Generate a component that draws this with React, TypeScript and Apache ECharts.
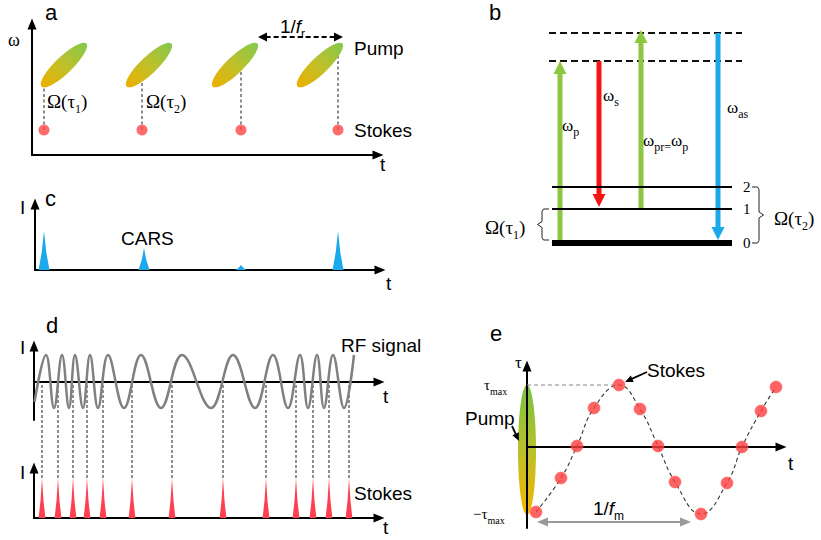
import React, { useEffect, useRef } from 'react';
import * as echarts from 'echarts';

// ---------------- DATA ----------------
// Panel a (units: schematic time / frequency)
const pumpTimesA = [3.2, 11.7, 20.3, 28.8];
const PUMP_OMEGA_A = 9.0;
const stokesTimesA = [1.2, 11.0, 20.9, 30.6];
const STOKES_OMEGA_A = 2.5;
const ramanTopOmegaA = [6.8, 7.5, 8.8, 10.5];
const repPeriodA = [22.6, 31.1];
const REP_OMEGA_A = 11.8;

// Panel b (energy diagram)
const levelLabels = ['0', '1', '2'];
const levelEnergies = [0, 3.4, 5.6];
const virtualEnergies = [18.2, 21.0];
const transitionKeys = ['pump', 'stokes', 'probe', 'antiStokes'];
const transitionX = [1.1, 5.0, 9.2, 16.9];
const transitionFrom = [0, 18.2, 3.4, 21.0];
const transitionTo = [18.2, 3.6, 21.3, 0.3];
const braceX = [21.0, -0.7];
const braceFrom = [0, 0.3];
const braceTo = [5.6, 3.4];
const braceDir = [1, -1];

// Panel c (CARS intensity)
const carsTimes = [0.9, 10.9, 20.6, 30.3];
const carsIntensity = [3.9, 2.2, 0.5, 3.9];

// Panel d (RF signal and Stokes pulses)
const RF_START = [0.05, -2.0];
const rfPeakTimes = [1.2, 2.8, 4.1, 5.6, 7.4, 10.7, 14.8, 19.9, 23.9, 26.6, 28.3, 29.9, 32.0];
const rfTroughTimes = [2.0, 3.5, 4.9, 6.4, 9.0, 12.7, 17.7, 22.1, 25.4, 27.4, 29.0, 31.0];
const RF_HIGH = 2.7;
const RF_LOW = -2.6;
const stokesTimesD = [0.8, 2.4, 3.9, 5.3, 6.9, 9.8, 13.8, 18.9, 23.2, 26.2, 27.9, 29.5, 31.5];
const STOKES_PEAK_D = 4.0;

// Panel e (delay vs time)
const stokesTimesE = [0.9, 3.4, 5.0, 6.7, 9.2, 11.3, 13.1, 14.8, 17.4, 20.0, 21.5, 23.4, 24.9];
const stokesDelayE = [-6.5, -3.1, 0.1, 3.9, 6.2, 3.8, 0.1, -3.5, -6.7, -3.6, 0, 3.6, 6.0];
const TAU_MAX = 6.2;
const PUMP_TAU_MIN = -6.8;
const modPeriodE = [1.0, 16.4];
const MOD_ARROW_TAU = -7.5;
const stokesPointerE = [[12.0, 7.5], [9.8, 6.5]];
const pumpPointerE = [[-1.5, 2.1], [-0.8, 0.6]];

// ---------------- LAYOUT / STYLE ----------------
const SERIF = '"Liberation Serif","Times New Roman",serif';
const SANS = '"Liberation Sans",Arial,Helvetica,sans-serif';
const GREEN = '#8DC63F';
const RED = '#F51414';
const BLUE = '#1AA9EA';
const transitionColor: Record<string, string> = { pump: GREEN, stokes: RED, probe: GREEN, antiStokes: BLUE };

const grids = [
  { left: 32, top: 24, width: 346, height: 131, xMax: 34.6, yMin: 0, yMax: 13.1, show: true },
  { left: 549, top: 20, width: 193, height: 223, xMax: 19.3, yMin: 0, yMax: 22.3, show: false },
  { left: 35, top: 204, width: 345, height: 66, xMax: 34.5, yMin: 0, yMax: 6.6, show: true },
  { left: 34, top: 346, width: 345, height: 74, xMax: 34.5, yMin: -3.8, yMax: 3.6, show: true },
  { left: 34, top: 468, width: 345, height: 50, xMax: 34.5, yMin: 0, yMax: 5.0, show: true },
  { left: 527, top: 366, width: 254, height: 162, xMax: 25.4, yMin: -8.1, yMax: 8.1, show: true },
];
const D1_ZERO_PX = grids[3].top + (grids[3].height * grids[3].yMax) / (grids[3].yMax - grids[3].yMin);
const LEVEL_X = [0.3, 18.3];

function arrowEls(x1: number, y1: number, x2: number, y2: number, color: string, width: number, headL: number, headW: number, dash?: number[], both?: boolean) {
  const dx = x2 - x1, dy = y2 - y1;
  const L = Math.hypot(dx, dy) || 1;
  const ux = dx / L, uy = dy / L;
  const nx = -uy, ny = ux;
  const head = (tx: number, ty: number, sx: number, sy: number) => ({
    type: 'polygon',
    shape: { points: [[tx, ty], [tx - sx * headL + (nx * headW) / 2, ty - sy * headL + (ny * headW) / 2], [tx - sx * headL - (nx * headW) / 2, ty - sy * headL - (ny * headW) / 2]] },
    style: { fill: color },
  });
  const k = headL * 0.85;
  const els: any[] = [
    { type: 'line', shape: { x1: both ? x1 + ux * k : x1, y1: both ? y1 + uy * k : y1, x2: x2 - ux * k, y2: y2 - uy * k }, style: { stroke: color, lineWidth: width, lineDash: dash || null } },
    head(x2, y2, ux, uy),
  ];
  if (both) els.push(head(x1, y1, -ux, -uy));
  return els;
}

const richSerif = (size: number, sub: number) => ({
  n: { fontFamily: SERIF, fontSize: size, lineHeight: size + 8, verticalAlign: 'middle', fill: '#000' },
  s: { fontFamily: SERIF, fontSize: sub, lineHeight: sub + 1, verticalAlign: 'bottom', fill: '#000' },
});
const richSans = (size: number, sub: number) => ({
  n: { fontFamily: SANS, fontSize: size, lineHeight: size + 8, verticalAlign: 'middle', fill: '#000' },
  i: { fontFamily: SANS, fontSize: size, fontStyle: 'italic', lineHeight: size + 8, verticalAlign: 'middle', fill: '#000' },
  s: { fontFamily: SANS, fontSize: sub, lineHeight: sub + 1, verticalAlign: 'bottom', fill: '#000' },
});

const txt = (x: number, y: number, text: string, size = 19, font = SANS) => ({
  type: 'text', x, y, z: 20,
  style: { text, fontFamily: font, fontSize: size, fill: '#000', align: 'left', verticalAlign: 'middle' },
});
const rtxt = (x: number, y: number, text: string, rich: any) => ({
  type: 'text', x, y, z: 20,
  style: { text, rich, align: 'left', verticalAlign: 'middle' },
});

function spike(api: any, t: number, h: number, w: number, fill: string) {
  const l = api.coord([t - w, 0]), r = api.coord([t + w, 0]), p = api.coord([t, h]);
  const ml = api.coord([t - w * 0.42, h * 0.45]), mr = api.coord([t + w * 0.42, h * 0.45]);
  return { type: 'polygon', shape: { points: [l, ml, p, mr, r] }, style: { fill } };
}

function buildOption() {
  const axisBase = (i: number, type: 'x' | 'y') => {
    const g = grids[i];
    return {
      type: 'value', gridIndex: i,
      min: type === 'x' ? 0 : g.yMin, max: type === 'x' ? g.xMax : g.yMax,
      show: g.show, z: 1,
      axisLine: { show: true, onZero: true, symbol: ['none', 'triangle'], symbolSize: [9, 11], lineStyle: { color: '#000', width: 2 } },
      axisTick: { show: false }, axisLabel: { show: false }, splitLine: { show: false },
    };
  };

  const rfPoints = [RF_START, ...rfPeakTimes.map((t) => [t, RF_HIGH]), ...rfTroughTimes.map((t) => [t, RF_LOW])].sort((a, b) => a[0] - b[0]);
  const eDots = stokesTimesE.map((t, i) => [t, stokesDelayE[i]]);

  const series: any[] = [
    // ---- a ----
    {
      type: 'custom', xAxisIndex: 0, yAxisIndex: 0, z: 2,
      data: stokesTimesA.map((t, i) => [t, STOKES_OMEGA_A, ramanTopOmegaA[i]]),
      renderItem: (_p: any, api: any) => {
        const a = api.coord([api.value(0), api.value(1)]);
        const b = api.coord([api.value(0), api.value(2)]);
        return { type: 'line', shape: { x1: a[0], y1: a[1], x2: b[0], y2: b[1] }, style: { stroke: '#444', lineWidth: 1.2, lineDash: [3, 2.5] } };
      },
    },
    {
      type: 'custom', xAxisIndex: 0, yAxisIndex: 0, z: 3,
      data: pumpTimesA.map((t) => [t, PUMP_OMEGA_A]),
      renderItem: (_p: any, api: any) => {
        const c = api.coord([api.value(0), api.value(1)]);
        return {
          type: 'ellipse', x: c[0], y: c[1], rotation: Math.PI / 4.1,
          shape: { cx: 0, cy: 0, rx: 31, ry: 8.5 },
          style: { fill: new echarts.graphic.LinearGradient(0, 0, 1, 0, [{ offset: 0, color: '#EDB000' }, { offset: 0.5, color: '#BFC02A' }, { offset: 1, color: '#84C94C' }]) },
        };
      },
    },
    {
      type: 'scatter', xAxisIndex: 0, yAxisIndex: 0, z: 4, symbolSize: 11,
      itemStyle: { color: '#FF4747' },
      data: stokesTimesA.map((t) => [t, STOKES_OMEGA_A]),
    },
    {
      type: 'custom', xAxisIndex: 0, yAxisIndex: 0, z: 4,
      data: [[repPeriodA[0], repPeriodA[1], REP_OMEGA_A]],
      renderItem: (_p: any, api: any) => {
        const a = api.coord([api.value(0), api.value(2)]);
        const b = api.coord([api.value(1), api.value(2)]);
        return { type: 'group', children: arrowEls(a[0], a[1], b[0], b[1], '#000', 2, 9, 9, [5, 3], true) };
      },
    },
    // ---- b ----
    {
      type: 'custom', xAxisIndex: 1, yAxisIndex: 1, z: 2,
      data: virtualEnergies.map((E) => [E]),
      renderItem: (_p: any, api: any) => {
        const a = api.coord([0, api.value(0)]);
        const b = api.coord([grids[1].xMax, api.value(0)]);
        return { type: 'line', shape: { x1: a[0], y1: a[1], x2: b[0], y2: b[1] }, style: { stroke: '#111', lineWidth: 1.8, lineDash: [7, 4] } };
      },
    },
    {
      type: 'custom', xAxisIndex: 1, yAxisIndex: 1, z: 3,
      data: transitionX.map((x, i) => [x, transitionFrom[i], transitionTo[i], i]),
      renderItem: (_p: any, api: any) => {
        const a = api.coord([api.value(0), api.value(1)]);
        const b = api.coord([api.value(0), api.value(2)]);
        const color = transitionColor[transitionKeys[api.value(3)]];
        return { type: 'group', children: arrowEls(a[0], a[1], b[0], b[1], color, 5, 13, 13) };
      },
    },
    {
      type: 'custom', xAxisIndex: 1, yAxisIndex: 1, z: 4,
      data: levelEnergies.map((E, i) => [E, i]),
      renderItem: (_p: any, api: any) => {
        const i = api.value(1);
        const a = api.coord([LEVEL_X[0], api.value(0)]);
        const b = api.coord([LEVEL_X[1], api.value(0)]);
        return {
          type: 'group', children: [
            { type: 'line', shape: { x1: a[0], y1: a[1], x2: b[0], y2: b[1] }, style: { stroke: '#000', lineWidth: i === 0 ? 6 : 2 } },
            { type: 'text', x: b[0] + 11, y: b[1], style: { text: levelLabels[i], fontFamily: SERIF, fontSize: 15, fill: '#000', align: 'left', verticalAlign: 'middle' } },
          ],
        };
      },
    },
    {
      type: 'custom', xAxisIndex: 1, yAxisIndex: 1, z: 4,
      data: braceX.map((x, i) => [x, braceFrom[i], braceTo[i], braceDir[i]]),
      renderItem: (_p: any, api: any) => {
        const d = api.value(3);
        const bot = api.coord([api.value(0), api.value(1)]);
        const top = api.coord([api.value(0), api.value(2)]);
        const x = bot[0];
        const ym = (bot[1] + top[1]) / 2;
        const pts = [[x - d * 7, top[1]], [x - d * 1.5, top[1]], [x, top[1] + 2.5], [x, ym - 3], [x + d * 4.5, ym], [x, ym + 3], [x, bot[1] - 2.5], [x - d * 1.5, bot[1]], [x - d * 7, bot[1]]];
        return { type: 'polyline', shape: { points: pts }, style: { stroke: '#222', lineWidth: 1, fill: null } };
      },
    },
    // ---- c ----
    {
      type: 'custom', xAxisIndex: 2, yAxisIndex: 2, z: 3,
      data: carsTimes.map((t, i) => [t, carsIntensity[i]]),
      renderItem: (_p: any, api: any) => spike(api, api.value(0), api.value(1), 0.55, BLUE),
    },
    // ---- d ----
    {
      type: 'line', xAxisIndex: 3, yAxisIndex: 3, z: 3, smooth: 0.4, showSymbol: false,
      lineStyle: { color: '#808080', width: 2.5 },
      data: rfPoints,
    },
    {
      type: 'custom', xAxisIndex: 4, yAxisIndex: 4, z: 3,
      data: stokesTimesD.map((t) => [t, STOKES_PEAK_D]),
      renderItem: (_p: any, api: any) => {
        const t = api.value(0), h = api.value(1);
        const p = api.coord([t, h]);
        return {
          type: 'group', children: [
            { type: 'line', shape: { x1: p[0], y1: p[1], x2: p[0], y2: D1_ZERO_PX }, style: { stroke: '#333', lineWidth: 1.1, lineDash: [3, 2] } },
            spike(api, t, h, 0.34, '#FF3F52'),
          ],
        };
      },
    },
    // ---- e ----
    {
      type: 'custom', xAxisIndex: 5, yAxisIndex: 5, z: 0,
      data: [[0, TAU_MAX, PUMP_TAU_MIN]],
      renderItem: (_p: any, api: any) => {
        const t = api.coord([api.value(0), api.value(1)]);
        const b = api.coord([api.value(0), api.value(2)]);
        return {
          type: 'ellipse', shape: { cx: t[0], cy: (t[1] + b[1]) / 2, rx: 9, ry: (b[1] - t[1]) / 2 },
          style: { fill: new echarts.graphic.LinearGradient(0, 0, 0, 1, [{ offset: 0, color: '#79C043' }, { offset: 0.5, color: '#B9C12A' }, { offset: 1, color: '#F4B600' }]) },
        };
      },
    },
    {
      type: 'line', xAxisIndex: 5, yAxisIndex: 5, z: 2, showSymbol: false,
      lineStyle: { color: '#888', width: 1.2, type: [4, 3] },
      data: [[0, TAU_MAX], [stokesTimesE[4], TAU_MAX]],
    },
    {
      type: 'line', xAxisIndex: 5, yAxisIndex: 5, z: 2, smooth: 0.45, showSymbol: false,
      lineStyle: { color: '#333', width: 1.1, type: [4, 3] },
      data: eDots,
    },
    {
      type: 'scatter', xAxisIndex: 5, yAxisIndex: 5, z: 4, symbolSize: 12,
      itemStyle: { color: '#FF3D3D', borderColor: 'rgba(255,90,90,0.6)', borderWidth: 1 },
      data: eDots,
    },
    {
      type: 'custom', xAxisIndex: 5, yAxisIndex: 5, z: 4,
      data: [[modPeriodE[0], modPeriodE[1], MOD_ARROW_TAU]],
      renderItem: (_p: any, api: any) => {
        const a = api.coord([api.value(0), api.value(2)]);
        const b = api.coord([api.value(1), api.value(2)]);
        return { type: 'group', children: arrowEls(a[0], a[1], b[0], b[1], '#999', 2, 11, 9, undefined, true) };
      },
    },
    {
      type: 'custom', xAxisIndex: 5, yAxisIndex: 5, z: 4,
      data: [[...stokesPointerE[0], ...stokesPointerE[1]], [...pumpPointerE[0], ...pumpPointerE[1]]],
      renderItem: (_p: any, api: any) => {
        const a = api.coord([api.value(0), api.value(1)]);
        const b = api.coord([api.value(2), api.value(3)]);
        return { type: 'group', children: arrowEls(a[0], a[1], b[0], b[1], '#000', 1.8, 8, 7) };
      },
    },
  ];

  const sr = richSerif(19, 12);
  const sb = richSerif(17, 12);
  const se = richSerif(15, 10);
  const sn = richSans(19, 12);

  const graphic: any[] = [
    // a
    txt(45, 12, 'a', 22), rtxt(8, 40, '{n|ω}', richSerif(18, 10)), txt(380, 164, 't', 19),
    txt(354, 48, 'Pump'), txt(354, 130, 'Stokes'),
    rtxt(47, 101, '{n|Ω(τ}{s|1}{n|)}', sr), rtxt(146, 101, '{n|Ω(τ}{s|2}{n|)}', sr),
    rtxt(280, 26, '{n|1/}{i|f}{s|r}', sn),
    // b
    txt(489, 12, 'b', 22),
    rtxt(562, 125, '{n|ω}{s|p}', sb), rtxt(603, 95, '{n|ω}{s|s}', sb),
    rtxt(643, 140, '{n|ω}{s|pr=}{n|ω}{s|p}', sb), rtxt(727, 107, '{n|ω}{s|as}', sb),
    rtxt(485, 227, '{n|Ω(τ}{s|1}{n|)}', sr), rtxt(774, 218, '{n|Ω(τ}{s|2}{n|)}', sr),
    // c
    txt(45, 198, 'c', 22), txt(20, 207, 'I', 19), txt(121, 238, 'CARS'), txt(386, 283, 't', 19),
    // d
    txt(46, 325, 'd', 22), txt(20, 347, 'I', 19), txt(341, 345, 'RF signal'), txt(383, 396, 't', 19),
    txt(20, 472, 'I', 19), txt(354, 493, 'Stokes'), txt(383, 527, 't', 19),
    // e
    txt(490, 333, 'e', 22), rtxt(515, 362, '{n|τ}', richSerif(17, 10)),
    rtxt(484, 385, '{n|τ}{s|max}', se), rtxt(473, 514, '{n|−τ}{s|max}', se),
    txt(465, 418, 'Pump'), txt(647, 370, 'Stokes'),
    rtxt(593, 508, '{n|1/}{i|f}{s|m}', sn), txt(788, 463, 't', 19),
  ];

  return {
    animation: false,
    backgroundColor: '#fff',
    grid: grids.map((g) => ({ left: g.left, top: g.top, width: g.width, height: g.height, containLabel: false })),
    xAxis: grids.map((_, i) => axisBase(i, 'x')),
    yAxis: grids.map((_, i) => axisBase(i, 'y')),
    series,
    graphic,
  };
}

export default function App() {
  const ref = useRef<HTMLDivElement>(null);
  useEffect(() => {
    if (!ref.current) return;
    const chart = echarts.init(ref.current, undefined, { renderer: 'svg' });
    chart.setOption(buildOption() as any);
    return () => chart.dispose();
  }, []);
  return <div ref={ref} style={{ position: 'absolute', left: 0, top: 0, width: 821, height: 540, background: '#fff' }} />;
}
